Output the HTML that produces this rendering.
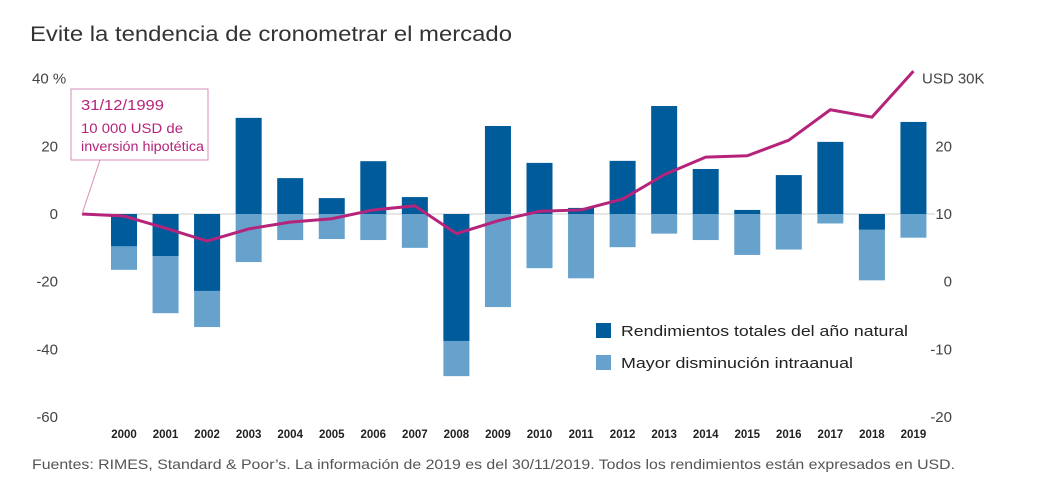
<!DOCTYPE html>
<html><head><meta charset="utf-8"><style>
body{margin:0;background:#fff;width:1052px;height:482px;overflow:hidden;font-family:"Liberation Sans",sans-serif}
</style></head><body>
<svg width="1052" height="482" id="c" font-family="Liberation Sans, sans-serif">
<text x="30" y="41" font-size="21" fill="#333" textLength="482" lengthAdjust="spacingAndGlyphs">Evite la tendencia de cronometrar el mercado</text>
<text x="32" y="469" font-size="14" fill="#555" textLength="923" lengthAdjust="spacingAndGlyphs">Fuentes: RIMES, Standard &amp; Poor’s. La información de 2019 es del 30/11/2019. Todos los rendimientos están expresados en USD.</text>
<g id="axes"></g><g id="bars"></g><g id="line"></g>
<rect x="71" y="89" width="137" height="71" fill="#fff" stroke="#d88cb8"/>
<line x1="100" y1="160" x2="82" y2="214" stroke="#d88cb8"/>
<text x="81" y="110" font-size="15" fill="#b5247a" textLength="83" lengthAdjust="spacingAndGlyphs">31/12/1999</text>
<text x="81" y="133" font-size="13.5" fill="#b5247a" textLength="102" lengthAdjust="spacingAndGlyphs">10 000 USD de</text>
<text x="81" y="151" font-size="13.5" fill="#b5247a" textLength="123" lengthAdjust="spacingAndGlyphs">inversión hipotética</text>
<rect x="596" y="323" width="15" height="15" fill="#005b9b"/>
<text x="621" y="336" font-size="15" fill="#222" textLength="287" lengthAdjust="spacingAndGlyphs">Rendimientos totales del año natural</text>
<rect x="596" y="355" width="15" height="15" fill="#66a2cc"/>
<text x="621" y="368" font-size="15" fill="#222" textLength="232" lengthAdjust="spacingAndGlyphs">Mayor disminución intraanual</text>
</svg>
<script>
const years=["2000","2001","2002","2003","2004","2005","2006","2007","2008","2009","2010","2011","2012","2013","2014","2015","2016","2017","2018","2019"];
const totalReturns=[-9.5,-12.4,-22.7,28.4,10.6,4.7,15.6,5.0,-37.5,26.0,15.1,1.8,15.7,31.9,13.3,1.2,11.5,21.3,-4.6,27.2];
const maxDeclines=[-16.5,-29.3,-33.4,-14.2,-7.7,-7.4,-7.7,-10.0,-47.9,-27.5,-16.0,-19.0,-9.8,-5.8,-7.7,-12.1,-10.5,-2.8,-19.6,-7.0];
const growth=[10,9.7,7.9,6.0,7.8,8.8,9.3,10.6,11.2,7.1,9.0,10.4,10.6,12.2,15.8,18.4,18.6,20.9,25.4,24.3,31.1];
const leftTicks=[40,20,0,-20,-40,-60];
const rightTicks=[30,20,10,0,-10,-20];
const NS="http://www.w3.org/2000/svg";
const yL=v=>214-v*3.385;
const yR=v=>214-(v-10)*6.77;
const xB=i=>124+i*41.55;
function mk(t,a,p){const e=document.createElementNS(NS,t);for(const k in a)e.setAttribute(k,a[k]);p.appendChild(e);return e;}
const ax=document.getElementById('axes'),bg=document.getElementById('bars'),lg=document.getElementById('line');
leftTicks.forEach((v,i)=>{const t=v===40?mk('text',{x:32,y:yL(v)+5,'font-size':15,fill:'#444'},ax):mk('text',{x:58,y:yL(v)+5,'font-size':15,fill:'#444','text-anchor':'end'},ax);t.textContent=v===40?'40 %':String(v);
});
rightTicks.forEach((v,i)=>{const t=v===30?mk('text',{x:922,y:yR(v)+5,'font-size':15,fill:'#444'},ax):mk('text',{x:952,y:yR(v)+5,'font-size':15,fill:'#444','text-anchor':'end'},ax);t.textContent=v===30?'USD 30K':String(v);
});
years.forEach((y,i)=>{const t=mk('text',{x:xB(i),y:438,'font-size':11.5,'font-weight':'bold','text-anchor':'middle',fill:'#222'},ax);t.textContent=y;
});
const z=mk('line',{x1:82,x2:935,y1:yL(0),y2:yL(0),stroke:'#ccc'},ax);

const W=26;
years.forEach((y,i)=>{
 const d=maxDeclines[i];const r=mk('rect',{x:xB(i)-W/2,y:yL(0),width:W,height:yL(d)-yL(0),fill:'#66a2cc'},bg);
 
 const v=totalReturns[i];const b=mk('rect',{x:xB(i)-W/2,y:Math.min(yL(0),yL(v)),width:W,height:Math.abs(yL(v)-yL(0)),fill:'#005b9b'},bg);
 
});
const pts=growth.map((g,i)=>(i===0?82:xB(i-1))+','+yR(g)).join(' ');
const pl=mk('polyline',{points:pts,fill:'none',stroke:'#b5247a','stroke-width':3,'stroke-linejoin':'round'},lg);

</script>
</body></html>
